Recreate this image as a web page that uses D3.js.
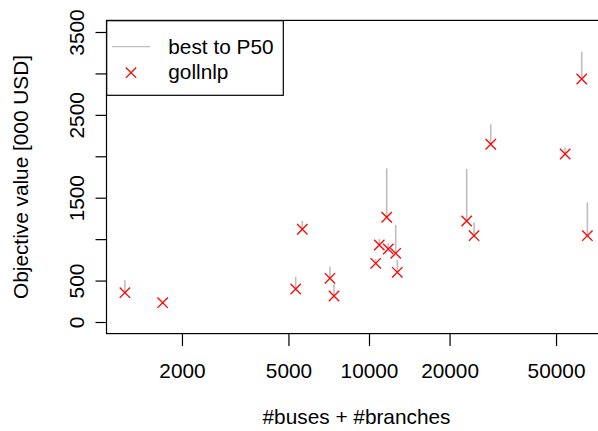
<!DOCTYPE html>
<html>
<head>
<meta charset="utf-8">
<script src="https://cdn.jsdelivr.net/npm/d3@7"></script>
<style>
  html, body { margin: 0; padding: 0; background: #fff; }
  svg text { font-family: "Liberation Sans", Arial, Helvetica, sans-serif; font-size: 20.8px; fill: #000; }
</style>
</head>
<body>
<svg id="chart" width="598" height="431"></svg>
<script>
// Data: size (#buses + #branches), best objective, P50 objective  [000 USD]
const sizes = [1224, 1694, 5321, 5634, 7147, 7400, 10593, 10926, 11646, 11805, 12584, 12758, 23174, 24695, 28510, 54060, 62370, 65470];
const best  = [354, 233, 398, 1119, 527, 314, 708, 929, 1264, 881, 829, 600, 1219, 1042, 2145, 2028, 2933, 1042];
const p50   = [507, 233, 547, 1219, 667, 459, 760, 1002, 1855, 950, 1171, 748, 1847, 1203, 2386, 2100, 3262, 1445];
const xTicks = [2000, 5000, 10000, 20000, 50000];
const yTicks = [0, 500, 1000, 1500, 2000, 2500, 3000, 3500];
const yLabels = [0, 500, 1500, 2500, 3500];

const svg = d3.select("#chart");
const box = { left: 106.5, right: 606, top: 20.4, bottom: 333.6 };

const x = d3.scaleLog().domain([1000, 100000]).range([101.4, 636.6]);
const y = d3.scaleLinear().domain([0, 3500]).range([322, 32]);

const plot = svg.append("g");

// segments best -> P50
plot.selectAll("line.seg").data(sizes).enter().append("line")
  .attr("class", "seg")
  .attr("x1", (d) => x(d)).attr("x2", (d) => x(d))
  .attr("y1", (d, i) => y(best[i])).attr("y2", (d, i) => y(p50[i]))
  .attr("stroke", "#bebebe").attr("stroke-width", 1.6);

// crosses
const cr = 5.2;
const pts = plot.selectAll("g.pt").data(sizes).enter().append("g")
  .attr("transform", (d, i) => `translate(${x(d)},${y(best[i])})`);
pts.append("path")
  .attr("d", `M${-cr},${-cr}L${cr},${cr}M${-cr},${cr}L${cr},${-cr}`)
  .attr("stroke", "#ff0000").attr("stroke-width", 1.3).attr("fill", "none");

// box
svg.append("rect")
  .attr("x", box.left).attr("y", box.top)
  .attr("width", box.right - box.left).attr("height", box.bottom - box.top)
  .attr("fill", "none").attr("stroke", "#000").attr("stroke-width", 1.2);

// x axis
const xAxis = d3.axisBottom(x).tickValues(xTicks).tickSize(12.5).tickPadding(7).tickFormat(d3.format("d"));
const gx = svg.append("g").attr("transform", `translate(0,${box.bottom})`).call(xAxis);
gx.select(".domain").remove();
gx.selectAll(".tick line").attr("stroke", "#000").attr("stroke-width", 1.2);
gx.selectAll(".tick text").attr("font-size", null).attr("font-family", null)
  .attr("dy", null).attr("y", 44.5);

// y axis
const yAxis = d3.axisLeft(y).tickValues(yTicks).tickSize(11).tickFormat((d) => yLabels.includes(d) ? String(d) : "");
const gy = svg.append("g").attr("transform", `translate(${box.left},0)`).call(yAxis);
gy.select(".domain").remove();
gy.selectAll(".tick line").attr("stroke", "#000").attr("stroke-width", 1.2);
gy.selectAll(".tick text").attr("font-size", null).attr("font-family", null)
  .attr("x", null).attr("dy", null)
  .attr("text-anchor", "middle")
  .attr("transform", "translate(-23,0) rotate(-90)");

// axis titles
svg.append("text").attr("x", 356.5).attr("y", 424)
  .attr("text-anchor", "middle").text("#buses + #branches");
svg.append("text").attr("transform", `translate(28,${(box.top + box.bottom) / 2}) rotate(-90)`)
  .attr("text-anchor", "middle").text("Objective value [000 USD]");

// legend
const lg = svg.append("g");
lg.append("rect").attr("x", 106.7).attr("y", 20.7).attr("width", 176.6).attr("height", 74.6)
  .attr("fill", "#fff").attr("stroke", "#000").attr("stroke-width", 1.2);
lg.append("line").attr("x1", 112).attr("x2", 150).attr("y1", 46.7).attr("y2", 46.7)
  .attr("stroke", "#bebebe").attr("stroke-width", 1.3);
lg.append("path")
  .attr("d", `M${131 - cr},${72.7 - cr}L${131 + cr},${72.7 + cr}M${131 - cr},${72.7 + cr}L${131 + cr},${72.7 - cr}`)
  .attr("stroke", "#ff0000").attr("stroke-width", 1.3).attr("fill", "none");
lg.append("text").attr("x", 168.3).attr("y", 54).text("best to P50");
lg.append("text").attr("x", 168.3).attr("y", 79).text("gollnlp");
</script>
</body>
</html>
